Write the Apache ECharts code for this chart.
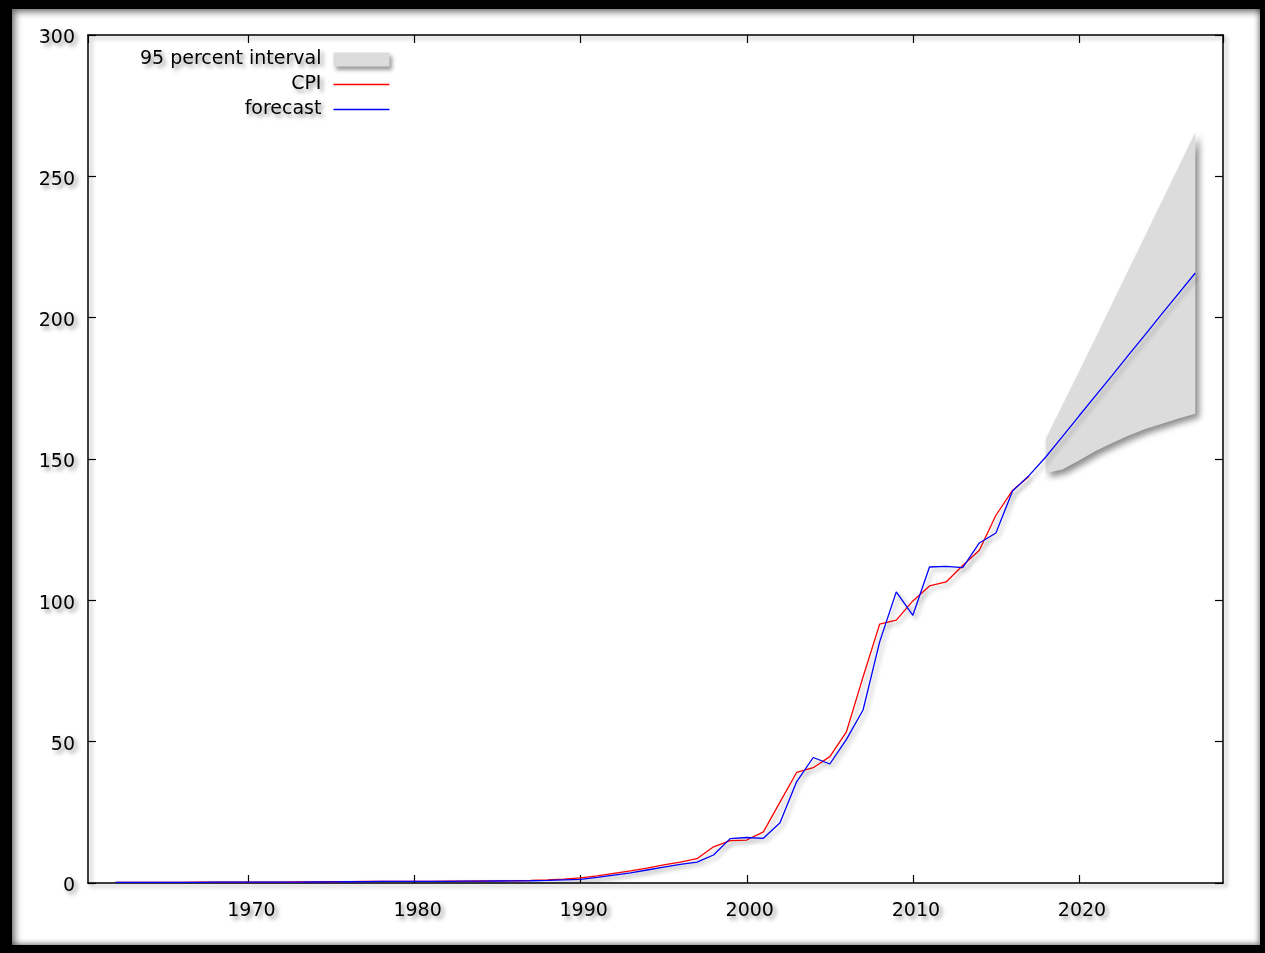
<!DOCTYPE html>
<html>
<head>
<meta charset="utf-8">
<script src="https://cdn.jsdelivr.net/npm/echarts@6/dist/echarts.min.js"></script>
<style>
html, body { margin:0; padding:0; background:#000; width:1265px; height:953px; overflow:hidden; }
#panel { position:absolute; left:12px; top:9px; width:1248px; height:936px; background:#fff;
  box-shadow: inset 3px 3px 7px rgba(0,0,0,0.55), inset -2px -2px 5px rgba(0,0,0,0.35); }
#chart { position:absolute; left:0; top:0; width:1265px; height:953px; }
</style>
</head>
<body>
<div id="panel"></div>
<div id="chart"></div>
<script>
// ---- data ----
const cpiYears = [1962,1963,1964,1965,1966,1967,1968,1969,1970,1971,1972,1973,1974,1975,1976,1977,1978,1979,
  1980,1981,1982,1983,1984,1985,1986,1987,1988,1989,1990,1991,1992,1993,1994,1995,1996,1997,1998,1999,
  2000,2001,2002,2003,2004,2005,2006,2007,2008,2009,2010,2011,2012,2013,2014,2015,2016,2017];
const cpi = [0.2,0.2,0.2,0.2,0.25,0.3,0.3,0.3,0.3,0.3,0.3,0.35,0.4,0.45,0.5,0.55,0.55,0.55,
  0.6,0.6,0.65,0.65,0.7,0.75,0.8,0.9,1.1,1.4,1.8,2.5,3.4,4.3,5.3,6.4,7.4,8.6,12.8,15.0,
  15.2,18.1,28.6,39.1,40.8,44.7,53.5,72.9,91.6,93.0,99.8,105.1,106.5,112.3,117.7,130.1,138.9,143.9];

const forecastYears = [1962,1963,1964,1965,1966,1967,1968,1969,1970,1971,1972,1973,1974,1975,1976,1977,1978,1979,
  1980,1981,1982,1983,1984,1985,1986,1987,1988,1989,1990,1991,1992,1993,1994,1995,1996,1997,1998,1999,
  2000,2001,2002,2003,2004,2005,2006,2007,2008,2009,2010,2011,2012,2013,2014,2015,2016,2017,
  2018,2019,2020,2021,2022,2023,2024,2025,2026,2027];
const forecast = [0.2,0.2,0.2,0.2,0.2,0.25,0.3,0.3,0.3,0.3,0.3,0.3,0.35,0.4,0.45,0.5,0.55,0.55,
  0.55,0.6,0.6,0.65,0.65,0.7,0.75,0.8,0.9,1.1,1.3,2.0,2.8,3.6,4.6,5.6,6.6,7.4,9.9,15.7,
  16.1,15.8,21.3,35.8,44.4,42.1,50.8,61.2,85.3,103.0,94.7,111.8,112.0,111.6,120.3,123.8,138.7,144.2,
  150.7,157.9,165.2,172.4,179.6,186.9,194.1,201.4,208.6,215.8];

const bandYears = [2018,2019,2020,2021,2022,2023,2024,2025,2026,2027];
const bandLower = [145.0,146.3,149.5,152.8,155.7,158.3,160.6,162.5,164.3,166.0];
const bandUpper = [157.2,169.0,180.9,192.9,205.0,217.1,229.2,241.3,253.4,265.6];

const xTickLabels = [1970,1980,1990,2000,2010,2020];
const yTickLabels = [0,50,100,150,200,250,300];

const legendNames = ['95 percent interval','CPI','forecast'];

// ---- styles ----
const FONT = 'DejaVu Sans';
const txtShadow = { textShadowColor:'rgba(0,0,0,0.45)', textShadowBlur:4, textShadowOffsetX:3, textShadowOffsetY:3 };
const lnShadow = { shadowColor:'rgba(0,0,0,0.35)', shadowBlur:4, shadowOffsetX:3, shadowOffsetY:3 };

const pairs = (xs, ys) => xs.map((x,i)=>[x, ys[i]]);

const chart = echarts.init(document.getElementById('chart'), null, {renderer:'canvas'});

const axisLineStyle = Object.assign({ color:'#000', width:1.5 }, lnShadow);
const lineIcon = 'path://M0,0L560,0L560,13L0,13Z';

const option = {
  animation: false,
  backgroundColor: 'transparent',
  textStyle: { fontFamily: FONT },
  grid: { left:88, top:35, right:42, bottom:70, containLabel:false },
  legend: {
    orient:'vertical', align:'right', left:135, top:45,
    itemWidth:56, itemHeight:14, itemGap:6, selectedMode:false,
    textStyle: Object.assign({ fontFamily:FONT, fontSize:19, color:'#000', lineHeight:19, padding:[0,7,0,0] }, txtShadow),
    data: [
      { name: legendNames[0], icon:'rect', itemStyle: { color:'#dcdcdc', shadowColor:'rgba(0,0,0,0.4)', shadowBlur:4, shadowOffsetX:3, shadowOffsetY:3 } },
      { name: legendNames[1], icon: lineIcon, itemStyle:{ color:'#ff0000' } },
      { name: legendNames[2], icon: lineIcon, itemStyle:{ color:'#0000ff' } }
    ]
  },
  xAxis: [{
    type:'value', min:1960.34, max:2028.67, position:'bottom',
    axisLine:{ show:true, onZero:false, lineStyle: axisLineStyle },
    axisTick:{ show:true, inside:true, length:8, lineStyle:{ color:'#000', width:1.2 } },
    splitLine:{ show:false },
    axisLabel: Object.assign({
      show:true, showMinLabel:false, showMaxLabel:false, margin:19,
      fontFamily:FONT, fontSize:19, color:'#000', padding:[0,0,0,6],
      formatter: v => (xTickLabels.indexOf(Math.round(v)) >= 0 && Math.abs(v-Math.round(v))<1e-6) ? String(Math.round(v)) : ''
    }, txtShadow)
  },{
    type:'value', min:1960.34, max:2028.67, position:'top',
    axisLine:{ show:true, onZero:false, lineStyle: axisLineStyle },
    axisTick:{ show:true, inside:true, length:8, lineStyle:{ color:'#000', width:1.2 } },
    splitLine:{ show:false }, axisLabel:{ show:false }
  }],
  yAxis: [{
    type:'value', min:0, max:300, interval:50, position:'left',
    axisLine:{ show:true, onZero:false, lineStyle: axisLineStyle },
    axisTick:{ show:true, inside:true, length:8, lineStyle:{ color:'#000', width:1.2 } },
    splitLine:{ show:false },
    axisLabel: {
      show:true, margin:13, color:'#000',
      formatter: v => yTickLabels.indexOf(v) >= 0 ? '{a|' + v + '}' : '',
      rich: { a: Object.assign({ fontFamily:FONT, fontSize:19, color:'#000', padding:[7,0,0,0] }, txtShadow) }
    }
  },{
    type:'value', min:0, max:300, interval:50, position:'right',
    axisLine:{ show:true, onZero:false, lineStyle: axisLineStyle },
    axisTick:{ show:true, inside:true, length:8, lineStyle:{ color:'#000', width:1.2 } },
    splitLine:{ show:false }, axisLabel:{ show:false }
  }],
  series: [
    {
      name: legendNames[0], type:'custom', silent:true, z:1,
      itemStyle:{ color:'#dcdcdc' },
      data: bandYears.map((y,i)=>[y, bandLower[i], bandUpper[i]]),
      encode: { x:0, y:[1,2] },
      renderItem: (params, api) => {
        if (params.dataIndex !== 0) return null;
        const pts = [];
        for (let i = 0; i < bandYears.length; i++) pts.push(api.coord([bandYears[i], bandUpper[i]]));
        for (let i = bandYears.length - 1; i >= 0; i--) pts.push(api.coord([bandYears[i], bandLower[i]]));
        return {
          type:'polygon', shape:{ points: pts },
          style:{ fill:'#dcdcdc', shadowColor:'rgba(0,0,0,0.45)', shadowBlur:6, shadowOffsetX:4, shadowOffsetY:4 }
        };
      }
    },
    {
      name: legendNames[1], type:'line', symbol:'none', silent:true,
      data: pairs(cpiYears, cpi),
      itemStyle:{ color:'#ff0000' },
      lineStyle: Object.assign({ color:'#ff0000', width:1.3 }, lnShadow), z:3
    },
    {
      name: legendNames[2], type:'line', symbol:'none', silent:true,
      data: pairs(forecastYears, forecast),
      itemStyle:{ color:'#0000ff' },
      lineStyle: Object.assign({ color:'#0000ff', width:1.3 }, lnShadow), z:4
    }
  ]
};
chart.setOption(option);
</script>
</body>
</html>
